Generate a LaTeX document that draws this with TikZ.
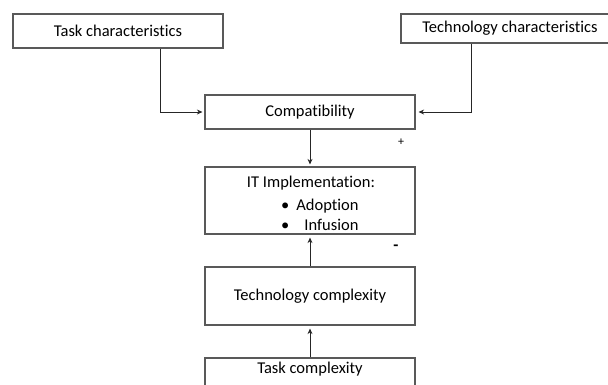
\documentclass[tikz,border=0pt]{standalone}
\usepackage{fontspec}
\setmainfont{Carlito}[Ligatures=CommonOff]
\usetikzlibrary{arrows.meta,calc}
\tikzset{
  box/.style={draw=black!65, line width=1.2pt, rectangle, inner sep=0pt, font=\fontsize{16.5}{19}\selectfont},
  lbl/.style={inner sep=0pt, font=\fontsize{16.5}{19}\selectfont},
  arr/.style={draw=black!85, line width=0.9pt, -{Stealth[length=5.5pt,width=5pt]}},
}
\begin{document}
\begin{tikzpicture}[x=1pt,y=-1pt]
\clip (0,0) rectangle (608,384);
\fill[white] (0,0) rectangle (608,384);
\node[box, minimum width=210pt, minimum height=34pt] (taskch) at (118,31) {Task characteristics};
\node[box, minimum width=218pt, minimum height=29pt] (techch) at (510,28.5) {Technology characteristics};
\node[box, minimum width=210pt, minimum height=34pt] (compat) at (310,112) {Compatibility};
\node[box, minimum width=210pt, minimum height=67pt] (itimp) at (310,200.5) {};
\node[lbl] (ittitle) at (311,183) {IT Implementation:};
\node[lbl, anchor=west] (adopt) at (281,206) {\textbullet\hspace{7pt}Adoption};
\node[lbl, anchor=west] (infus) at (281,225) {\textbullet\hspace{15pt}Infusion};
\node[box, minimum width=210pt, minimum height=58pt] (techcx) at (310,296) {Technology complexity};
\node[box, minimum width=210pt, minimum height=40pt] (taskcx) at (310,378) {};
\node[lbl] (taskcxt) at (310,369) {Task complexity};
\coordinate (xa) at (160,0);
\coordinate (xb) at (471,0);
\draw[arr, shorten >=2pt] (taskch.south -| xa) |- (compat.west);
\draw[arr, shorten >=3pt] (techch.south -| xb) |- (compat.east);
\draw[arr, shorten >=2pt] (compat.south) -- (itimp.north);
\draw[arr, shorten >=3pt] (techcx.north) -- (itimp.south);
\draw[arr, shorten >=3pt] (taskcx.north) -- (techcx.south);
\node[inner sep=0pt, font=\fontsize{12}{14}\selectfont] (plus) at (401,142) {+};
\node[inner sep=0pt, font=\bfseries\fontsize{16.5}{19}\selectfont] (minus) at (396,248) {-};
\end{tikzpicture}
\end{document}
